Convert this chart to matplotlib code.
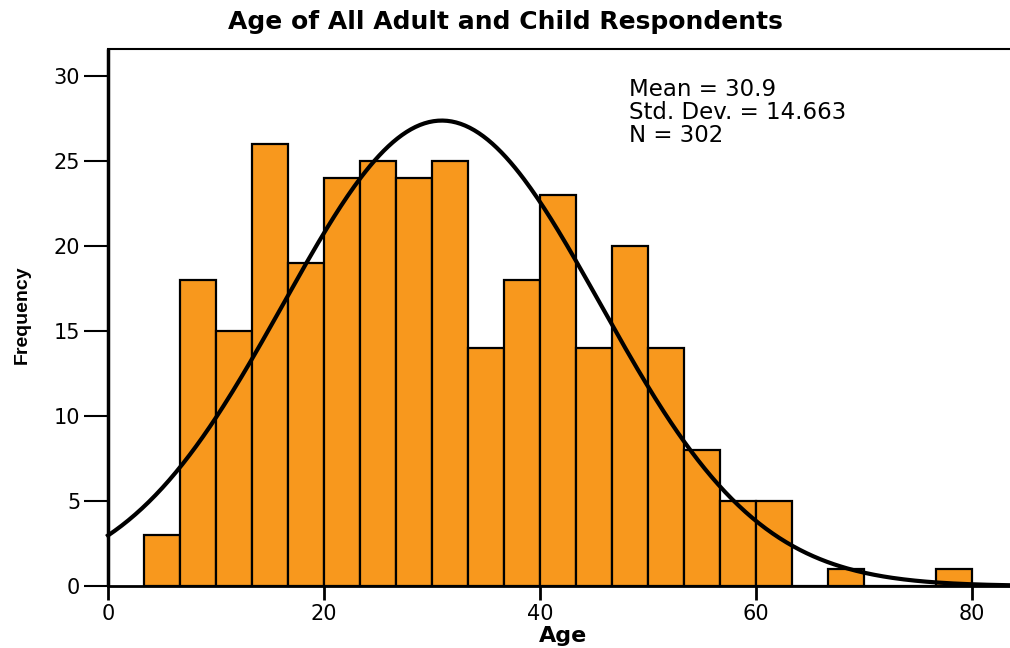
import numpy as np
import matplotlib
matplotlib.use("Agg")
import matplotlib.pyplot as plt

plt.rcParams['font.family'] = ['DejaVu Sans']

# histogram of ages, bins of width 10/3 from 3.33 to 80
counts = [3, 18, 15, 26, 19, 24, 25, 24, 25, 14, 18, 23, 14, 20, 14, 8, 5, 5, 0, 1, 0, 0, 1]
bin_width = 10 / 3
first_edge = 10 / 3
mean_age = 30.9
std_age = 14.663
n_resp = 302

edges = first_edge + bin_width * np.arange(len(counts))

fig = plt.figure(figsize=(10.1, 6.48), dpi=100)
ax = fig.add_axes([108/1010, 62/648, 1 - 108/1010, (586-49)/648])

ax.bar(edges, counts, width=bin_width, align='edge', color='#F8981D',
       edgecolor='black', linewidth=1.6, zorder=2)

xs = np.linspace(0, 83.5, 400)
ys = n_resp * bin_width / (std_age * np.sqrt(2 * np.pi)) * np.exp(-(xs - mean_age) ** 2 / (2 * std_age ** 2))
ax.plot(xs, ys, color='black', linewidth=3, zorder=3, clip_on=False)

ax.set_xlim(0, 83.5)
ax.set_ylim(0, 31.6)
ax.set_xticks([0, 20, 40, 60, 80])
ax.set_yticks([0, 5, 10, 15, 20, 25, 30])
ax.tick_params(axis='y', length=17, width=1.5, labelsize=15, pad=3)
ax.tick_params(axis='x', length=10, width=2, labelsize=15, pad=3)

ax.spines['right'].set_visible(False)
ax.spines['left'].set_linewidth(2.5)
ax.spines['left'].set_capstyle('butt')
ax.spines['bottom'].set_linewidth(2)
ax.spines['top'].set_linewidth(1.5)

fig.text(0.5, 1 - 22/648, 'Age of All Adult and Child Respondents',
         ha='center', va='center', fontsize=18, fontweight='bold')
fig.text(563/1010, 1 - 636/648, 'Age', ha='center', va='center',
         fontsize=16, fontweight='bold')
fig.text(22/1010, 1 - 315/648, 'Frequency', ha='center', va='center',
         rotation=90, fontsize=14, fontweight='bold',
         family=['Liberation Sans'])

ax.text(48.2, 29.9, 'Mean = 30.9\nStd. Dev. = 14.663\nN = 302',
        ha='left', va='top', fontsize=16.5, linespacing=1.0)

fig.savefig('out.png', dpi=100)
